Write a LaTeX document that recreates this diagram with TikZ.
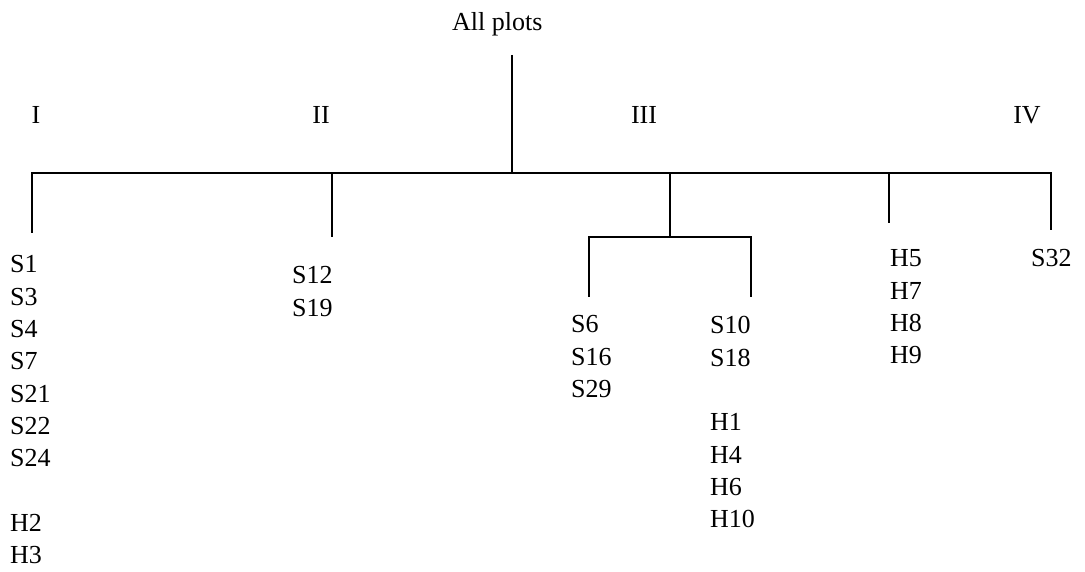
\documentclass[tikz,border=0pt]{standalone}
\usepackage{fontspec}
\setmainfont{Liberation Serif}
\begin{document}
\begin{tikzpicture}[x=1pt,y=-1pt,
  lbl/.style={font=\fontsize{26}{32.3}\selectfont, inner sep=0pt},
  col/.style={lbl, align=left, anchor=north west},
  grp/.style={lbl, anchor=base},
  edge/.style={line width=1.6pt, line join=miter}]
\useasboundingbox (0,0) rectangle (1085,572);
% root
\node[lbl, anchor=base west] (root) at (452,31) {All plots};
\coordinate (rtop) at (512,55);
\coordinate (rj) at (512,173);
% group labels
\node[grp] (gI) at (36,124) {I};
\node[grp] (gII) at (321,124) {II};
\node[grp] (gIII) at (644,124) {III};
\node[grp] (gIV) at (1027,124) {IV};
% bar junctions
\coordinate (cI) at (32,173);
\coordinate (cII) at (332,173);
\coordinate (cIII) at (670,173);
\coordinate (cH) at (889,173);
\coordinate (cIV) at (1051,173);
% branch ends
\coordinate (eI) at (32,233);
\coordinate (eII) at (332,237);
\coordinate (eIII) at (670,237);
\coordinate (eH) at (889,223);
\coordinate (eIV) at (1051,230);
% sub bar
\coordinate (sa) at (589,237);
\coordinate (sb) at (751,237);
\coordinate (sae) at (589,297);
\coordinate (sbe) at (751,297);
% leaf columns
\node[col] (colI) at (10,255.5) {S1\\S3\\S4\\S7\\S21\\S22\\S24\\[32.3pt]H2\\H3};
\node[col] (colII) at (292,266.5) {S12\\S19};
\node[col] (colIIIa) at (571,315.5) {S6\\S16\\S29};
\node[col] (colIIIb) at (710,316.5) {S10\\S18\\[32.3pt]H1\\H4\\H6\\H10};
\node[col] (colH) at (890,249.5) {H5\\H7\\H8\\H9};
\node[col] (colS) at (1031,249.5) {S32};
% connectors
\draw[edge] (rtop) -- (rj);
\draw[edge] (eI) -- (cI) -- (cIV) -- (eIV);
\draw[edge] (cII) -- (eII);
\draw[edge] (cIII) -- (eIII);
\draw[edge] (cH) -- (eH);
\draw[edge] (sae) -- (sa) -- (sb) -- (sbe);
\end{tikzpicture}
\end{document}
